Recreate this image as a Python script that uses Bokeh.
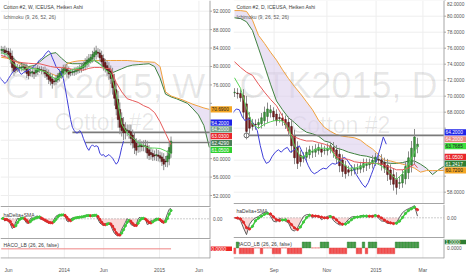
import datetime as dt
import numpy as np
from bokeh.plotting import figure
from bokeh.layouts import row, column
from bokeh.models import Range1d, FixedTicker
from bokeh.core.properties import value
from bokeh.embed import file_html
from bokeh.resources import INLINE

# ===================== data =====================
# ---- weekly chart (left): Heiken Ashi closes, one candle per week from 2013-05-04
l_start = "2013-05-04"
l_close = [83.5, 83.7, 83.0, 83.2, 82.6, 81.6, 79.8, 78.9, 79.2, 79.7,
           79.6, 79.9, 80.0, 79.4, 78.5, 78.0, 78.6, 78.9, 78.4, 79.2,
           79.6, 79.3, 79.1, 79.0, 78.4, 77.9, 77.2, 76.8, 76.3, 76.7,
           77.4, 78.0, 78.6, 79.0, 79.5, 79.7, 78.8, 78.3, 78.6, 78.9,
           79.0, 79.2, 79.5, 79.7, 80.0, 80.4, 80.9, 81.4, 81.7, 82.0,
           82.6, 83.1, 83.4, 82.9, 81.9, 81.0, 80.0, 79.5, 79.1, 78.4,
           77.4, 75.4, 73.1, 70.8, 68.5, 66.8, 66.1, 65.6, 65.6, 66.1,
           65.6, 64.4, 63.4, 62.4, 61.8, 62.6, 63.0, 62.6, 62.8, 62.6,
           61.2, 60.7, 60.9, 60.4, 60.6, 60.9, 60.5, 60.1, 59.4, 58.8,
           59.3, 60.6, 62.4, 63.8]
l_wick = [0.8, 0.6, 0.9, 0.7, 0.8, 1.0, 1.2, 0.9, 0.7, 0.8,
          0.6, 0.7, 0.8, 0.9, 1.0, 0.8, 0.7, 0.9, 1.1, 0.8,
          0.7, 0.6, 0.8, 0.7, 0.9, 0.8, 1.0, 0.9, 1.1, 0.8,
          0.7, 0.6, 0.8, 0.7, 0.9, 0.8, 1.2, 0.9, 0.7, 0.6,
          0.8, 0.7, 0.6, 0.7, 0.8, 0.7, 0.9, 0.8, 1.0, 0.7,
          0.8, 1.0, 1.1, 0.9, 0.8, 1.0, 0.9, 0.8, 1.1, 1.3,
          1.2, 1.5, 1.6, 1.4, 1.8, 1.5, 1.3, 1.6, 1.4, 1.2,
          1.3, 1.5, 1.2, 1.4, 1.1, 1.3, 1.2, 1.0, 1.1, 1.3,
          1.2, 1.0, 1.1, 0.9, 1.0, 1.2, 1.1, 0.9, 1.0, 1.3,
          1.1, 1.2, 1.4, 1.0]
# Ichimoku lines, one value every 3 weeks starting at week 0
l_tenkan = [83.0, 82.6, 80.8, 79.8, 79.3, 79.7, 79.5, 79.2, 78.9, 78.0,
            77.2, 77.8, 78.8, 79.3, 79.6, 80.0, 80.8, 81.5, 80.6, 79.3,
            78.5, 74.0, 67.5, 65.5, 64.5, 63.5, 62.8, 62.3, 62.3, 62.2,
            61.7, 61.05]
l_kijun = [82.4, 82.0, 81.3, 81.0, 80.8, 80.7, 80.6, 80.6, 80.3, 80.0,
           79.8, 79.8, 79.6, 79.4, 79.3, 79.2, 79.6, 79.8, 79.8, 79.6,
           79.5, 76.5, 74.5, 73.0, 72.6, 72.2, 71.5, 71.0, 70.0, 68.0,
           65.5, 63.03]
l_span_a = [83.5, 83.0, 82.0, 81.0, 80.5, 80.0, 80.2, 81.0, 82.0, 82.8,
            83.0, 81.8, 80.8, 80.6, 80.6, 80.6, 80.8, 81.3, 80.5, 79.5,
            78.5, 79.0, 79.5, 80.0, 80.3, 80.4, 80.5, 80.6, 80.0, 77.5,
            74.0, 73.4, 73.0, 72.5, 72.0, 70.8, 69.5, 67.2, 62.43]
l_span_b = [82.0, 81.8, 81.5, 80.8, 80.2, 79.8, 79.6, 79.4, 79.0, 78.5,
            78.0, 78.5, 80.6, 81.0, 81.2, 81.3, 81.3, 81.3, 81.3, 81.3,
            81.3, 81.3, 81.3, 81.3, 81.2, 81.1, 81.0, 81.0, 80.9, 80.0,
            74.5, 73.6, 73.2, 72.8, 72.3, 71.8, 71.4, 71.0, 70.69]
l_hline_week = [39, 46]
l_hline_price = [65.7, 63.5]
l_tag_text = ["70.6900", "64.2000", "64.2000", "63.0300", "62.4290", "61.0500"]
l_tag_color = ["#f5a623", "#1e22e8", "#74a083", "#e8262b", "#4b7d58", "#2fd12f"]
l_tag_tcolor = ["#222222", "white", "white", "white", "white", "white"]
l_price_ticks = [52, 56, 60, 64, 68, 72, 76, 80, 84, 88, 92]
l_time_dates = ["2013-06-01", "2014-01-01", "2014-06-01", "2015-01-01", "2015-06-01"]
l_time_labels = ["Jun", "2014", "Jun", "2015", "Jun"]

# ---- daily chart (right): one candle every 2.5 trading days from 2014-07-16
r_start = "2014-07-16"
r_holidays = ["2014-09-01", "2014-11-27", "2014-12-25", "2015-01-01", "2015-01-19", "2015-02-16"]
r_close = [70.4, 70.3, 69.8, 68.0, 65.6, 66.0, 66.2, 66.4, 66.7, 67.3,
           68.0, 68.4, 68.3, 67.4, 66.9, 67.2, 66.9, 66.4, 65.7, 63.8,
           62.3, 61.6, 61.8, 62.5, 63.0, 63.3, 63.0, 63.4, 63.6, 63.0,
           63.2, 63.5, 63.8, 63.0, 62.2, 61.3, 60.6, 60.3, 60.5, 60.8,
           61.0, 60.9, 61.3, 61.6, 61.5, 61.7, 62.0, 62.4, 62.0, 61.4,
           61.0, 60.2, 59.6, 59.0, 58.6, 59.2, 60.2, 61.2, 62.3, 63.5,
           64.9, 64.0]
r_wick = [0.5, 0.6, 0.5, 0.8, 1.0, 0.7, 0.5, 0.6, 0.5, 0.6,
          0.7, 0.8, 0.6, 0.5, 0.6, 0.5, 0.6, 0.5, 0.7, 0.9,
          0.8, 0.7, 0.6, 0.5, 0.6, 0.5, 0.7, 0.6, 0.5, 0.6,
          0.5, 0.6, 0.5, 0.7, 0.6, 0.8, 0.7, 0.6, 0.5, 0.6,
          0.5, 0.6, 0.5, 0.6, 0.7, 0.5, 0.6, 0.5, 0.6, 0.7,
          0.6, 0.8, 0.7, 0.8, 0.9, 0.7, 0.6, 0.7, 0.8, 0.9,
          1.0, 0.8]
r_haco = [-1, 1, -1, -1, -1, -1, -1, 0, 0, -1,
          0, 0, 0, -1, -1, -1, 0, 0, -1, -1,
          -1, -1, -1, 1, 1, 1, 0, 0, 0, 1,
          1, 1, -1, -1, -1, -1, -1, -1, 1, 1,
          1, -1, -1, 1, -1, 1, 1, 1, -1, -1,
          -1, -1, -1, -1, 1, 1, 1, 1, 1, 1,
          1, 1]
# Ichimoku lines, one value every 2 candles (last value at the last candle)
r_tenkan = [72.3, 71.0, 68.5, 66.5, 66.0, 66.5, 66.8, 67.0, 66.9, 66.0,
            63.8, 62.4, 62.6, 63.2, 63.5, 63.5, 63.4, 62.2, 61.6, 61.0,
            61.0, 61.2, 61.6, 61.7, 61.5, 61.0, 60.3, 59.6, 60.3, 61.5,
            63.0, 63.77]
r_kijun = [74.3, 73.6, 73.0, 72.6, 71.5, 70.5, 69.6, 68.8, 67.5, 65.5,
           64.9, 64.6, 64.4, 64.4, 64.2, 64.0, 63.7, 62.4, 62.2, 62.1,
           61.8, 61.7, 61.7, 61.6, 61.6, 61.4, 61.1, 60.8, 60.8, 61.0,
           61.5, 61.05]
r_span_a = [79.8, 79.7, 79.3, 78.2, 76.0, 73.8, 71.5, 69.4, 68.3, 67.3,
            66.7, 66.0, 65.5, 65.3, 65.0, 64.4, 64.2, 63.5, 63.3, 63.0,
            62.8, 62.6, 62.5, 62.3, 62.1, 61.7, 61.6, 61.6, 61.7, 61.9,
            61.9, 61.5, 61.0, 60.2, 60.8, 61.24]
r_span_b = [80.7, 80.7, 80.6, 79.5, 77.6, 76.6, 75.5, 74.5, 73.3, 72.2,
            71.2, 70.3, 69.3, 68.3, 67.0, 66.1, 65.6, 65.2, 65.0, 64.9,
            64.8, 64.5, 63.9, 63.4, 62.7, 62.0, 61.9, 61.7, 61.5, 61.3,
            61.0, 60.5, 60.7, 60.7, 60.7, 60.72]
r_hline_candle = [4]
r_hline_price = [65.1]
r_tag_text = ["64.2000", "64.2000", "63.7685", "61.0500", "61.2417", "60.7200"]
r_tag_color = ["#1e22e8", "#e98880", "#3ee03e", "#e8262b", "#2e7d32", "#f5a623"]
r_tag_tcolor = ["white", "white", "#222222", "white", "white", "#222222"]
r_price_ticks = [58, 60, 62, 64, 66, 68, 70, 72, 74, 76, 78, 80, 82]
r_time_dates = ["2014-09-02", "2014-11-03", "2015-01-02", "2015-03-02"]
r_time_labels = ["Sep", "Nov", "2015", "Mar"]

# ===================== styling =====================
FONT = "Liberation Sans"
GRID = "#eeeeee"
SEP = "#a6a6a6"
AXC = "#555555"
UP, UP_B = "#3b9b3b", "#1f5a1f"
DN, DN_B = "#7d1d1d", "#3a0d0d"
C_TENKAN, C_KIJUN, C_LAG = "#5ad35a", "#e65a5a", "#3f3fd8"
C_SPA, C_SPB, C_CLOUD = "#3f823f", "#f0a13c", "#dccfec"


class Pane:
    def __init__(self, left, top, w, h, px0, dx, y0, y1):
        self.left, self.top, self.w, self.h = left, top, w, h
        self.px0, self.dx, self.y0, self.y1 = px0, dx, y0, y1

    def X(self, px):
        return (px - self.px0) / self.dx

    def Y(self, py):
        return self.y1 - (py - self.top) / self.h * (self.y1 - self.y0)

    def py(self, v):
        return self.top + (self.y1 - v) / (self.y1 - self.y0) * self.h

    def hy(self, n):
        return n * (self.y1 - self.y0) / self.h

    def hx(self, n):
        return n / self.dx

    def fig(self, axis=False):
        p = figure(width=self.w, height=self.h + (10 if axis else 0),
                   x_range=Range1d(self.X(self.left), self.X(self.left + self.w)),
                   y_range=Range1d(self.y0, self.y1),
                   output_backend="svg", toolbar_location=None,
                   x_axis_location="below" if axis else None, y_axis_location=None,
                   min_border_left=0, min_border_right=0, min_border_top=0,
                   min_border_bottom=10 if axis else 0)
        p.outline_line_color = None
        p.grid.visible = False
        p.background_fill_color = "white"
        p.border_fill_color = "white"
        self.p = p
        return p


def txt(p, x, y, s, size="5px", color=AXC, align="left", baseline="middle", alpha=1.0):
    p.text(x=[x], y=[y], text=[s], text_font=value(FONT), text_font_size=size,
           text_color=color, text_align=align, text_baseline=baseline, text_alpha=alpha)


def ha_open(close):
    o = [close[0]]
    for i in range(1, len(close)):
        o.append((o[-1] + close[i - 1]) / 2.0)
    return np.array(o)


def draw_tags(pane, ax, right_px, texts, colors, tcolors, lift, gap=6.8):
    p = pane.p
    vals = [float(t) for t in texts]
    pys = [pane.py(v) for v in vals]
    out = list(pys)
    out[-1] = pys[-1] - lift
    for i in range(len(out) - 2, -1, -1):
        out[i] = min(pys[i], out[i + 1] - gap)
    x0 = ax + pane.hx(0.6)
    x1 = pane.X(right_px)
    ys = [pane.Y(q) for q in out]
    p.rect(x=[(x0 + x1) / 2] * len(out), y=ys, width=x1 - x0, height=pane.hy(6.2),
           fill_color=colors, line_color=None)
    p.text(x=[ax + pane.hx(1.5)] * len(out), y=ys, text=texts, text_color=tcolors,
           text_font=value(FONT), text_font_size="4.8px", text_baseline="middle", text_align="left")
    return out


def build(cf):
    W = 233
    L = cf["page_left"]
    close = np.array(cf["close"], float)
    wick = np.array(cf["wick"], float)
    n = len(close)
    xs = np.arange(n, dtype=float)
    opn = ha_open(close)
    px0, dx = cf["px0"], cf["dx"]

    # ---------------- main price pane ----------------
    m = Pane(L, 0, W, cf["main_h"], px0, dx, cf["main_y"][0], cf["main_y"][1])
    pm = m.fig()
    ax = m.X(cf["ax_px"])
    xl = m.X(L)
    tpos = cf["time_pos"]

    # grid
    for t in cf["price_ticks"]:
        pm.segment([xl], [t], [ax], [t], color=GRID, line_width=1)
    for t in tpos:
        pm.segment([t], [m.y0], [t], [m.y1], color=GRID, line_width=1)

    # watermark
    txt(pm, m.X(L + cf["wm_cx"]), m.Y(85), cf["wm1"], size=cf["wm_size"], color="#000000",
        align="center", alpha=0.09)
    txt(pm, m.X(L + cf["wm_cx2"]), m.Y(cf["wm2_y"]), "Cotton #2", size="23px", color="#000000",
        align="center", alpha=0.09)

    # cloud
    lead_x = cf["lead_x"]
    pm.varea(x=lead_x, y1=cf["span_a"], y2=cf["span_b"], fill_color=C_CLOUD, fill_alpha=0.6)
    pm.line(lead_x, cf["span_a"], color=C_SPA, line_width=1)
    pm.line(lead_x, cf["span_b"], color=C_SPB, line_width=1)

    # user horizontal lines
    for s, v in zip(cf["hline_start"], cf["hline_price"]):
        pm.segment([s], [v], [ax], [v], color="#7a7a7a", line_width=1.6)
    if cf.get("hline_marker"):
        pm.scatter([cf["hline_start"][0]], [cf["hline_price"][0]], size=5, marker="circle",
                   fill_color="white", line_color="#666666", line_width=1)

    # candles
    top = np.maximum(opn, close)
    bot = np.minimum(opn, close)
    top = np.maximum(top, bot + m.hy(0.8))
    up = close >= opn
    pm.segment(xs, bot - wick, xs, top + wick, color="#8c8c8c", line_width=1)
    pm.vbar(x=xs, width=cf["body_w"], top=top, bottom=bot,
            fill_color=[UP if u else DN for u in up],
            line_color=[UP_B if u else DN_B for u in up], line_width=0.5)

    # ichimoku lines
    pm.line(xs - cf["lag"], close, color=C_LAG, line_width=1)
    pm.line(cf["tk_x"], cf["kijun"], color=C_KIJUN, line_width=1)
    pm.line(cf["tk_x"], cf["tenkan"], color=C_TENKAN, line_width=1)

    # legend
    txt(pm, m.X(L + 3), m.Y(6), cf["title"], size="5px", color="#3d3d3d")
    txt(pm, m.X(L + 3), m.Y(16), "Ichimoku (9, 26, 52, 26)", size="5px", color="#5a5a5a")

    # separator & price axis
    pm.segment([xl], [m.y0 + m.hy(0.75)], [ax], [m.y0 + m.hy(0.75)], color=SEP, line_width=1.5)
    pm.segment([ax], [m.y0], [ax], [m.y1], color=SEP, line_width=1)
    tag_py = draw_tags(m, ax, L + W - cf["tag_pad"], cf["tag_text"], cf["tag_color"],
                       cf["tag_tcolor"], cf["tag_lift"])
    for t in cf["price_ticks"]:
        pm.segment([ax], [t], [ax + m.hx(2)], [t], color=SEP, line_width=1)
        if any(abs(m.py(t) - q) < 6.2 for q in tag_py):
            continue
        ly = m.Y(max(m.py(t), 3.5))   # keep the top label inside the page
        txt(pm, ax + m.hx(3), ly, "%.4f" % t, size="4.8px", color=AXC)

    # ---------------- haDelta + SMA pane ----------------
    delta = close - opn
    sma = np.array([np.mean(delta[max(0, i - 2):i + 1]) for i in range(n)])
    oh = cf["osc_h"]
    otop = cf["main_h"]
    zp = cf["osc_zero_px"] - otop
    lo = min(delta.min(), sma.min())
    hi = max(delta.max(), sma.max())
    s = max(-lo / (oh - zp), hi / zp) * 1.1
    o = Pane(L, otop, W, oh, px0, dx, -s * (oh - zp), s * zp)
    po = o.fig()
    for t in tpos:
        po.segment([t], [o.y0], [t], [o.y1], color=GRID, line_width=1)
    po.varea(x=xs, y1=np.zeros(n), y2=np.minimum(delta, 0), fill_color="#f5b8b8", fill_alpha=0.55)
    po.segment([xl], [0], [ax], [0], color="#9a9a9a", line_width=1, line_dash="1 2")
    po.line(xs, delta, color="#5e5e5e", line_width=1)
    cols = ["#3cc83c" if b >= a else "#e02a2a" for a, b in zip(sma[:-1], sma[1:])]
    po.segment(xs[:-1], sma[:-1], xs[1:], sma[1:], color=cols, line_width=1.5)
    po.scatter(xs[1:], sma[1:], size=2.2, color=cols)
    txt(po, o.X(L + 3), o.Y(cf["osc_leg_y"]), "haDelta+SMA", size="5px", color="#3d3d3d")
    po.segment([xl], [o.y0 + o.hy(0.75)], [ax], [o.y0 + o.hy(0.75)], color=SEP, line_width=1.5)
    po.segment([ax], [o.y0], [ax], [o.y1], color=SEP, line_width=1)
    txt(po, ax + o.hx(3), 0, "0.00", size="4.8px", color=AXC)

    # ---------------- HACO pane ----------------
    hh = cf["haco_h"]
    htop = otop + oh
    h = Pane(L, htop, W, hh, px0, dx, cf["haco_y"][0], cf["haco_y"][1])
    ph = h.fig(axis=True)
    for t in tpos:
        ph.segment([t], [h.y0], [t], [h.y1], color=GRID, line_width=1)
    txt(ph, h.X(L + 3), h.Y(cf["haco_leg_y"]), "HACO_LB (26, 26, false)", size="5px", color="#3d3d3d")
    if cf["haco"] is None:
        ph.segment([xs[0]], [0], [xs[-1]], [0], color="#f08a8a", line_width=1.5, line_alpha=0.7)
        draw_tags(h, ax, L + W - cf["tag_pad"], ["0.0000"], ["#ee2424"], ["white"], 0)
    else:
        hv = np.array(cf["haco"], float)
        ph.vbar(x=xs, width=0.86, top=hv, bottom=np.zeros(n),
                fill_color=["#3f9a42" if v > 0 else "#f24a4a" for v in hv],
                line_color=["#2c7a2f" if v > 0 else "#e03a3a" for v in hv], line_width=0.4)
        draw_tags(h, ax, L + W - cf["tag_pad"], ["1.0000"], ["#2e7d32"], ["white"], 0)
        txt(ph, ax + h.hx(3), 0, "0.0000", size="4.8px", color=AXC)
    ph.segment([xl], [h.y0 + h.hy(0.5)], [ax], [h.y0 + h.hy(0.5)], color=SEP, line_width=1.2)
    ph.segment([ax], [h.y0], [ax], [h.y1], color=SEP, line_width=1)
    ph.xaxis.ticker = FixedTicker(ticks=tpos)
    ph.xaxis.major_label_overrides = {t: lab for t, lab in zip(tpos, cf["time_labels"])}
    ph.xaxis.axis_line_color = None
    ph.xaxis.major_tick_line_color = None
    ph.xaxis.minor_tick_line_color = None
    ph.xaxis.major_label_text_font_size = "5px"
    ph.xaxis.major_label_text_color = AXC
    ph.xaxis.major_label_text_font = FONT
    ph.xaxis.major_label_standoff = 2
    return column(pm, po, ph, spacing=0)


# ---- time tick positions (in candle units) ----
ls = dt.date.fromisoformat(l_start)
l_tpos = [round((dt.date.fromisoformat(d) - ls).days / 7.0, 3) for d in l_time_dates]
r_tpos = [round(float(np.busday_count(r_start, d, holidays=r_holidays)) / 2.5, 3) for d in r_time_dates]

L_PX0, L_DX = 0.7, 1.826
R_PX0, R_DX = 234.0, 3.0
L_AX, R_AX = 209.5, 443.5

left_cf = dict(
    page_left=0, px0=L_PX0, dx=L_DX, ax_px=L_AX, main_h=207, main_y=(49.40, 94.32),
    close=l_close, wick=l_wick, body_w=0.85, lag=26,
    lead_x=[3 * j for j in range(len(l_span_a))], span_a=l_span_a, span_b=l_span_b,
    tk_x=[3 * j for j in range(len(l_tenkan))], tenkan=l_tenkan, kijun=l_kijun,
    hline_start=l_hline_week, hline_price=l_hline_price, hline_marker=False,
    tag_text=l_tag_text, tag_color=l_tag_color, tag_tcolor=l_tag_tcolor, tag_lift=4, tag_pad=1.5,
    price_ticks=l_price_ticks, time_pos=l_tpos, time_labels=l_time_labels,
    wm1="CTK2015, W", wm_size="35px", wm_cx=104.5, wm_cx2=104, wm2_y=121,
    title="Cotton #2, W, ICEUSA, Heiken Ashi",
    osc_h=32, osc_zero_px=218.3, osc_leg_y=214,
    haco_h=26, haco_y=(-1.65, 1.55), haco_leg_y=246.7, haco=None,
)
r_ax_x = (R_AX - R_PX0) / R_DX
right_cf = dict(
    page_left=233, px0=R_PX0, dx=R_DX, ax_px=R_AX, main_h=204, main_y=(56.46, 81.96),
    close=r_close, wick=r_wick, body_w=0.58, lag=26 / 2.5,
    lead_x=[2 * j for j in range(len(r_span_a) - 1)] + [r_ax_x], span_a=r_span_a, span_b=r_span_b,
    tk_x=[2 * j for j in range(len(r_tenkan) - 1)] + [len(r_close) - 1], tenkan=r_tenkan, kijun=r_kijun,
    hline_start=r_hline_candle, hline_price=r_hline_price, hline_marker=True,
    tag_text=r_tag_text, tag_color=r_tag_color, tag_tcolor=r_tag_tcolor, tag_lift=0, tag_pad=0,
    price_ticks=r_price_ticks, time_pos=r_tpos, time_labels=r_time_labels,
    wm1="CTK2015, D", wm_size="36px", wm_cx=105, wm_cx2=107, wm2_y=124,
    title="Cotton #2, D, ICEUSA, Heiken Ashi",
    osc_h=34, osc_zero_px=217.3, osc_leg_y=210,
    haco_h=27, haco_y=(-1.79, 1.59), haco_leg_y=245, haco=r_haco,
)

layout = row(build(left_cf), build(right_cf), spacing=0)
open("out.html", "w").write(file_html(layout, INLINE))
